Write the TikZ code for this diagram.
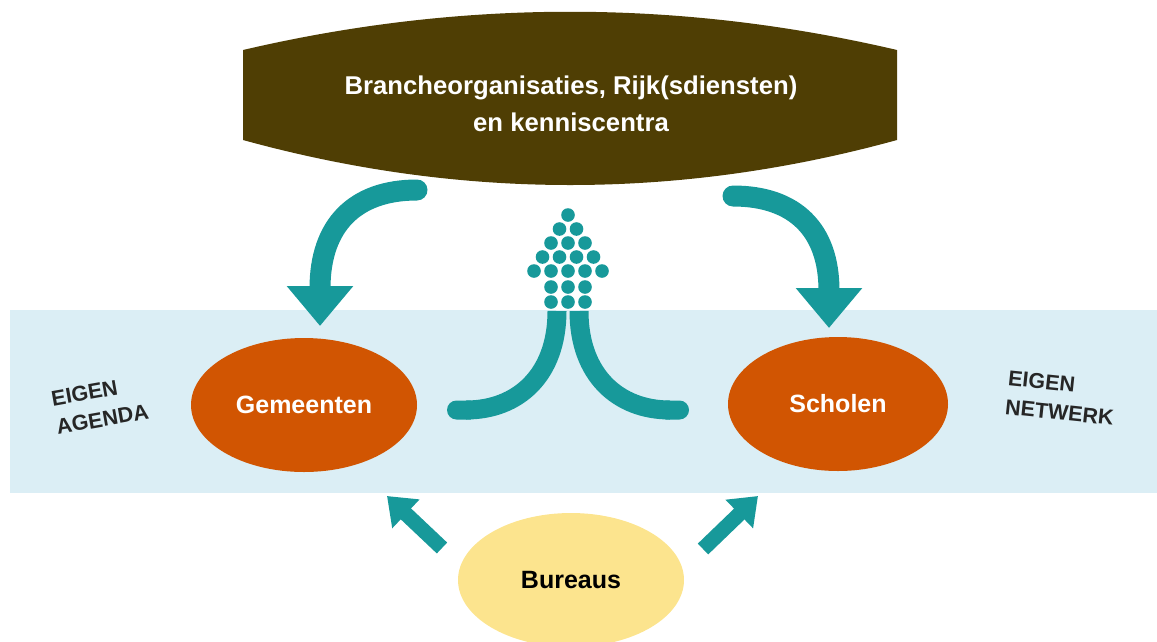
\documentclass[tikz,border=0pt]{standalone}
\usepackage{fontspec}
\setmainfont{Liberation Sans}
\usetikzlibrary{shapes.geometric,arrows.meta,positioning}
\definecolor{teal2}{HTML}{17999A}
\definecolor{brwn}{HTML}{4F3E04}
\definecolor{orng}{HTML}{D15502}
\definecolor{band}{HTML}{DBEEF5}
\definecolor{geel}{HTML}{FCE48E}

\begin{document}
\begin{tikzpicture}[x=1pt,y=-1pt,
    blob/.style={ellipse,minimum width=226pt,minimum height=134pt,inner sep=0pt,
      font=\fontsize{25}{28}\selectfont\bfseries},
    tag/.style={align=left,font=\fontsize{21.5}{29}\selectfont\bfseries,text=black!85},
    bigarr/.style={teal2,line width=21pt,line cap=round,-{Triangle[width=64pt,length=40pt]}},
    smallarr/.style={teal2,line width=15pt,-{Triangle[width=38pt,length=26pt]}},
    fork/.style={teal2,line width=19pt,-{Round Cap[]}}]
 \useasboundingbox (0,0) rectangle (1157,641);
 \fill[band] (10,310) rectangle (1157,493);
 % top shape
 \fill[brwn] (243,50) .. controls (461,-1) and (679,-1) .. (897,50)
   -- (897,140) .. controls (679,200) and (461,200) .. (243,140) -- cycle;
 \node[text=white,align=center,font=\fontsize{25.7}{37}\selectfont\bfseries] (BR)
  at (571,104) {Brancheorganisaties, Rijk(sdiensten)\\ en kenniscentra};
 \node[blob,fill=orng,text=white] (GEM) at (304,405) {Gemeenten};
 \node[blob,fill=orng,text=white,minimum width=220pt] (SCH) at (838,404) {Scholen};
 \node[blob,fill=geel,text=black] (BUR) at (571,580) {Bureaus};
 \node[tag,rotate=10] (EA) at (100,405) {EIGEN\\AGENDA};
 \node[tag,rotate=-6] (EN) at (1061,398) {EIGEN\\NETWERK};
 \coordinate (l0) at (417,190); \coordinate (l1) at (320,326);
 \coordinate (r0) at (733,196); \coordinate (r1) at (829,328);
 \draw[bigarr] (l0) .. controls (355,190) and (320,225) .. (l1);
 \draw[bigarr] (r0) .. controls (795,196) and (829,230) .. (r1);
 \coordinate (b0) at (442,548); \coordinate (b1) at (387,496);
 \coordinate (b2) at (703,549); \coordinate (b3) at (758,496);
 \draw[smallarr] (b0) -- (b1);
 \draw[smallarr] (b2) -- (b3);
 % fork and dotted arrow
 \coordinate (f0) at (557,311); \coordinate (f1) at (579,311);
 \draw[fork] (f0) .. controls (557,375) and (518,410) .. (447,410);
 \draw[fork] (f1) .. controls (579,375) and (618,410) .. (689,410);
 \foreach \y/\n in {215/1,229/2,243/3,257/4,271/5,287/3,302/3}
  \foreach \i in {1,...,\n}
   \fill[teal2] ({568+(\i-(\n+1)/2)*17},\y) circle (6.8pt);
\end{tikzpicture}
\end{document}
